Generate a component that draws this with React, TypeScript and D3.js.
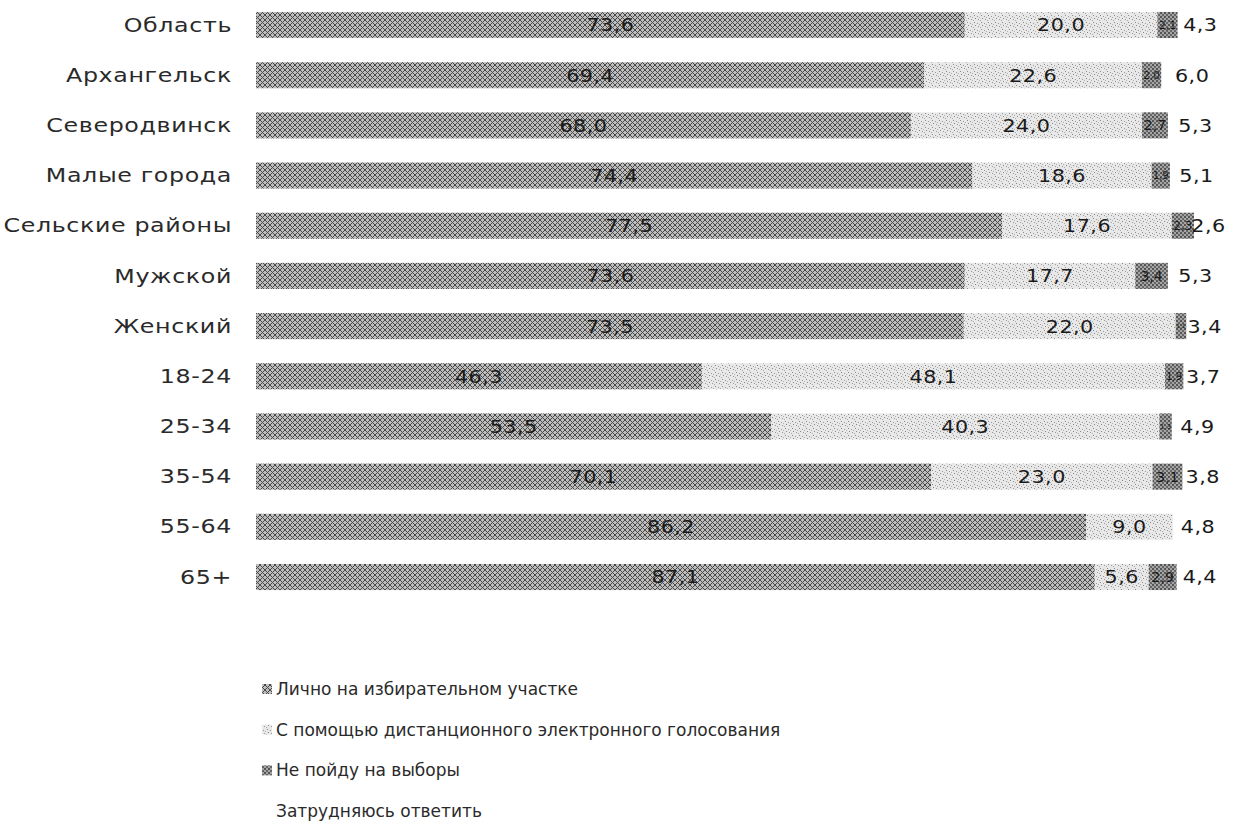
import React from "react";
import * as d3 from "d3";

const categories = ["Область", "Архангельск", "Северодвинск", "Малые города", "Сельские районы", "Мужской", "Женский", "18-24", "25-34", "35-54", "55-64", "65+"];
const inPerson = [73.6, 69.4, 68.0, 74.4, 77.5, 73.6, 73.5, 46.3, 53.5, 70.1, 86.2, 87.1];
const remote = [20.0, 22.6, 24.0, 18.6, 17.6, 17.7, 22.0, 48.1, 40.3, 23.0, 9.0, 5.6];
const notGo = [2.1, 2.0, 2.7, 1.9, 2.3, 3.4, 1.1, 1.9, 1.3, 3.1, 0.0, 2.9];
const hard = [4.3, 6.0, 5.3, 5.1, 2.6, 5.3, 3.4, 3.7, 4.9, 3.8, 4.8, 4.4];
const seriesNames = ["Лично на избирательном участке", "С помощью дистанционного электронного голосования", "Не пойду на выборы", "Затрудняюсь ответить"];

const W = 1234, H = 828;
const FONT = "'DejaVu Sans', sans-serif";

export default function App() {
  const series = [inPerson, remote, notGo, hard];
  const fills = ["url(#p1)", "url(#p2)", "url(#p3)", "none"];
  const x = d3.scaleLinear().domain([0, 100]).range([256, 1219]);
  const y = d3.scaleBand<string>().domain(categories).range([-0.1, 602.1]).paddingInner(0.48).paddingOuter(0.24);
  const fmt = (v: number) => v.toFixed(1).replace(".", ",");
  const bw = y.bandwidth();

  const segs: any[] = [];
  categories.forEach((c, i) => {
    let acc = 0;
    series.forEach((s, k) => {
      const v = s[i];
      segs.push({ c, i, k, x0: acc, x1: acc + v, v });
      acc += v;
    });
  });

  return (
    <div style={{ position: "absolute", left: 0, top: 0 }}>
      <svg width={W} height={H} style={{ display: "block", background: "#fff" }}>
        <defs>
          <pattern id="p1" width="5" height="5" patternUnits="userSpaceOnUse">
            <rect width="5" height="5" fill="#bdbdbd" />
            <path d="M0,0 L5,5 M5,0 L0,5 M-1,4 L1,6 M4,-1 L6,1 M4,6 L6,4 M-1,1 L1,-1" stroke="#4a4a4a" strokeWidth="1" />
          </pattern>
          <pattern id="p2" width="7" height="7" patternUnits="userSpaceOnUse">
            <rect width="7" height="7" fill="#e8e8e8" />
            <rect x="1" y="1" width="1" height="1" fill="#8a8a8a" />
            <rect x="4" y="2" width="1" height="1" fill="#9a9a9a" />
            <rect x="2" y="4" width="1" height="1" fill="#888" />
            <rect x="5" y="5" width="1" height="1" fill="#999" />
            <rect x="6" y="3" width="1" height="1" fill="#b0b0b0" />
            <rect x="0" y="6" width="1" height="1" fill="#aaa" />
          </pattern>
          <pattern id="p3" width="4" height="4" patternUnits="userSpaceOnUse">
            <rect width="4" height="4" fill="#a5a5a5" />
            <rect x="0" y="0" width="2" height="2" fill="#555" />
            <rect x="2" y="2" width="2" height="2" fill="#666" />
          </pattern>
        </defs>
        {categories.map(c => (
          <g key={c} transform={`translate(232,${y(c)! + bw / 2}) scale(1.25,1)`}>
            <text x={0} y={0} dy="0.35em" textAnchor="end" fontFamily={FONT} fontSize={19} fill="#2a2a2a" letterSpacing="0.5">{c}</text>
          </g>
        ))}
        {segs.map((s, j) => s.k < 3 && s.v > 0 ? (
          <rect key={"r" + j} x={x(s.x0)} y={y(s.c)!} width={x(s.x1) - x(s.x0)} height={bw} fill={fills[s.k]} />
        ) : null)}
        {segs.map((s, j) => {
          if (s.k === 2 && s.v <= 0) return null;
          const cx = (x(s.x0) + x(s.x1)) / 2 + (s.k === 3 ? 2 : 0);
          const cy = y(s.c)! + bw / 2;
          if (s.k === 2) {
            const fs = Math.min(14, (x(s.x1) - x(s.x0)) * 0.55);
            return (
              <text key={"t" + j} x={cx} y={cy} dy="0.36em" textAnchor="middle" fontFamily={FONT} fontSize={fs} fill="#1a1a1a">{fmt(s.v)}</text>
            );
          }
          return (
            <g key={"t" + j} transform={`translate(${cx},${cy}) scale(1.15,1)`}>
              <text x={0} y={0} dy="0.36em" textAnchor="middle" fontFamily={FONT} fontSize={18} letterSpacing={0.4} fill="#1a1a1a">{fmt(s.v)}</text>
            </g>
          );
        })}
        {seriesNames.map((n, k) => {
          const ly = 689 + k * 40.7;
          return (
            <g key={n}>
              {k < 3 && <rect x={262} y={ly - 5} width={10} height={10} fill={fills[k]} />}
              <text x={276} y={ly} dy="0.35em" fontFamily={FONT} fontSize={17} fill="#2a2a2a">{n}</text>
            </g>
          );
        })}
      </svg>
    </div>
  );
}
